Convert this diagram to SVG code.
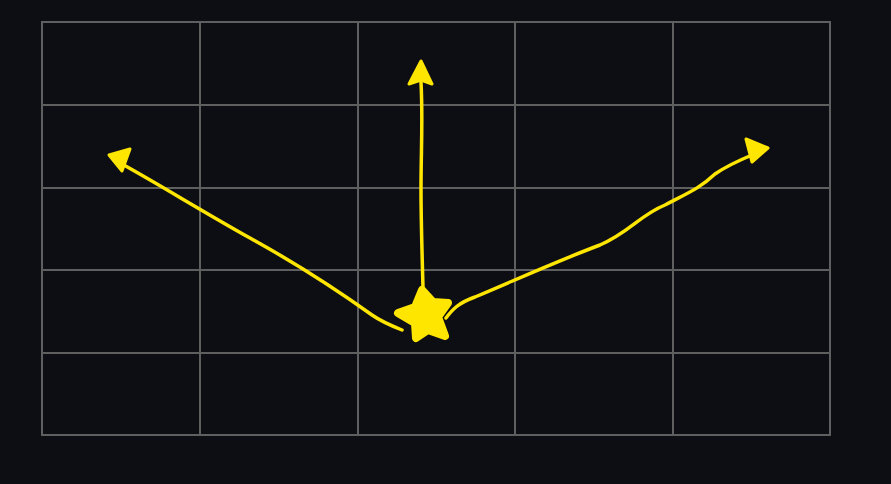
<svg xmlns="http://www.w3.org/2000/svg" width="891" height="484" viewBox="0 0 891 484">
<style>
.grid{stroke:#5f5f5f;stroke-width:2;fill:none}
.ln{stroke:#ffe600;stroke-width:3.5;fill:none;stroke-linecap:round;stroke-linejoin:round}
.hd{fill:#ffe600;stroke:#ffe600;stroke-width:3;stroke-linejoin:round}
</style>
<rect width="891" height="484" fill="#0d0e14"/>
<g id="grid" class="grid">
<rect x="42" y="22" width="788" height="413"/>
<path d="M200 22V435M358 22V435M515 22V435M673 22V435M42 105H830M42 188H830M42 270H830M42 353H830"/>
</g>
<g id="connectors">
<path class="ln" d="M423 288 C422 250 421 220 421 190 C421 150 423 120 421 82"/>
<polygon class="hd" points="421,61 409,84 421,80 432,84"/>
<path class="ln" d="M402 330 C392 326 382 322 372 315 C330 285 290 260 250 238 C200 210 160 185 122 164"/>
<polygon class="hd" points="109,155 130,149 122,171"/>
<path class="ln" d="M446 318 C452 310 458 303 475 297 C520 278 560 260 600 245 C630 232 640 215 665 205 C690 192 700 188 715 174 C728 165 740 160 752 155"/>
<polygon class="hd" points="768,148 746,139 752,162"/>
</g>
<g id="star">
<path fill="#ffe600" stroke="#ffe600" stroke-width="8" stroke-linejoin="round" d="M422 290 L433 302 L448 303 L438 317 L445 336 L428 330 L416 338 L415 323 L398 313 L415 307 Z"/>
</g>
</svg>
